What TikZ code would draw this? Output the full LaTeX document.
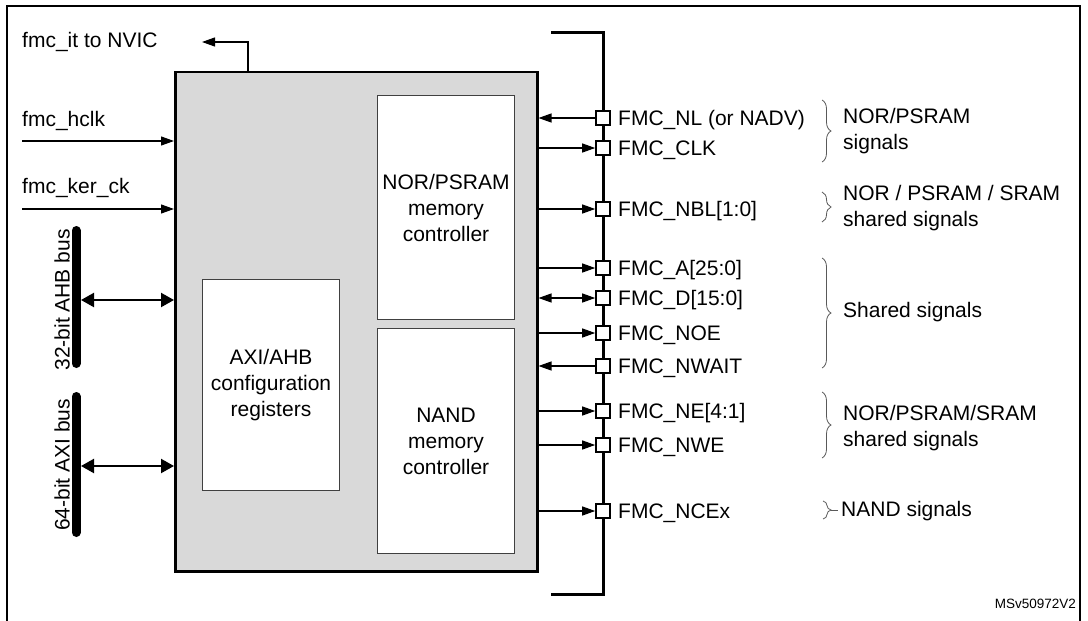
\documentclass[tikz,border=0pt]{standalone}
\usepackage{fontspec}
\setmainfont{Liberation Sans}
\usetikzlibrary{arrows.meta,decorations.pathreplacing}
\definecolor{fmcgray}{RGB}{217,217,217}
\begin{document}
\begin{tikzpicture}[x=1pt,y=-1pt,
  txt/.style={font=\fontsize{21}{26}\selectfont, inner sep=0pt},
  sigtxt/.style={font=\fontsize{21}{26}\selectfont, inner sep=0pt, text height=15pt, text depth=0pt, anchor=west},
  blk/.style={draw=black!75, line width=1pt, fill=white, inner sep=0pt, align=center, anchor=north west, font=\fontsize{21}{26}\selectfont},
  pinbox/.style={draw=black, line width=1.6pt, fill=white, minimum size=14pt, inner sep=0pt},
  sigline/.style={line width=1.2pt},
  toright/.style={sigline, -{Triangle[length=13pt,width=9pt]}},
  toleft/.style={sigline, {Triangle[length=13pt,width=9pt]}-},
  tboth/.style={sigline, {Triangle[length=13pt,width=9pt]}-{Triangle[length=13pt,width=9pt]}},
  busarrow/.style={line width=2.2pt, {Triangle[length=13pt,width=14pt]}-{Triangle[length=13pt,width=14pt]}},
  busbar/.style={line width=9pt, line cap=round},
  grp/.style={decorate, decoration={brace, amplitude=9pt}, draw=black!65, line width=0.8pt},
]
\useasboundingbox (0,0) rectangle (1088,621);
\clip (0,0) rectangle (1088,621);

% outer frame (open at the bottom)
\draw[line width=2.5pt] (7,640) -- (7,6) -- (1080,6) -- (1080,640);

% main FMC block
\node[draw=black, line width=2.5pt, fill=fmcgray, minimum width=362pt, minimum height=499.5pt, inner sep=0pt, anchor=north west] (fmc) at (174,70.7) {};

% inner blocks
\node[blk, minimum width=137pt, minimum height=224pt] (nor) at (377,95) {NOR/PSRAM\\memory\\controller};
\node[blk, minimum width=137pt, minimum height=225pt] (nand) at (377,328) {NAND\\memory\\controller};
\node[blk, minimum width=137pt, minimum height=211pt] (axi) at (202,279) {AXI/AHB\\configuration\\registers};

% left side inputs
\node[txt, anchor=base west] (itl) at (22,47) {fmc\_it to NVIC};
\coordinate (itup) at (248,42);
\coordinate (itend) at (202,42);
\draw[toright] (fmc.north -| itup) -- (itup) -- (itend);

\node[txt, anchor=base west] (hclk) at (22,126) {fmc\_hclk};
\coordinate (hclks) at (22,141);
\draw[toright] (hclks) -- (fmc.west |- hclks);

\node[txt, anchor=base west] (kerck) at (22,193) {fmc\_ker\_ck};
\coordinate (kercks) at (22,209);
\draw[toright] (kercks) -- (fmc.west |- kercks);

% buses
\coordinate (ahbT) at (76,230.5);
\coordinate (ahbB) at (76,363.5);
\draw[busbar] (ahbT) -- (ahbB);
\node[txt, rotate=90] (ahbl) at (62,300) {32-bit AHB bus};
\coordinate (ahbR) at (81,300);
\draw[busarrow] (ahbR) -- (fmc.west |- ahbR);

\coordinate (axiT) at (76,396.5);
\coordinate (axiB) at (76,532.5);
\draw[busbar] (axiT) -- (axiB);
\node[txt, rotate=90] (axil) at (62,465) {64-bit AXI bus};
\coordinate (axiR) at (81,466);
\draw[busarrow] (axiR) -- (fmc.west |- axiR);

% external bus line
\coordinate (busTL) at (551,32);
\coordinate (busTR) at (603,32);
\coordinate (busBR) at (603,594);
\coordinate (busBL) at (551,594);
\draw[line width=3pt] (busTL) -- (busTR) -- (busBR) -- (busBL);

% pins
\node[pinbox] (pNL) at (603,118) {};
\node[pinbox] (pCLK) at (603,148) {};
\node[pinbox] (pNBL) at (603,209) {};
\node[pinbox] (pA) at (603,268) {};
\node[pinbox] (pD) at (603,298) {};
\node[pinbox] (pNOE) at (603,333) {};
\node[pinbox] (pNWAIT) at (603,366) {};
\node[pinbox] (pNE) at (603,411) {};
\node[pinbox] (pNWE) at (603,445) {};
\node[pinbox] (pNCE) at (603,511) {};

\draw[toleft]  (fmc.east |- pNL) -- (pNL.west);
\draw[toright] (fmc.east |- pCLK) -- (pCLK.west);
\draw[toright] (fmc.east |- pNBL) -- (pNBL.west);
\draw[toright] (fmc.east |- pA) -- (pA.west);
\draw[tboth]   (fmc.east |- pD) -- (pD.west);
\draw[toright] (fmc.east |- pNOE) -- (pNOE.west);
\draw[toleft]  (fmc.east |- pNWAIT) -- (pNWAIT.west);
\draw[toright] (fmc.east |- pNE) -- (pNE.west);
\draw[toright] (fmc.east |- pNWE) -- (pNWE.west);
\draw[toright] (fmc.east |- pNCE) -- (pNCE.west);

\node[sigtxt] (tNL) at (618,118) {FMC\_NL (or NADV)};
\node[sigtxt] (tCLK) at (618,148) {FMC\_CLK};
\node[sigtxt] (tNBL) at (618,209) {FMC\_NBL[1:0]};
\node[sigtxt] (tA) at (618,268) {FMC\_A[25:0]};
\node[sigtxt] (tD) at (618,298) {FMC\_D[15:0]};
\node[sigtxt] (tNOE) at (618,333) {FMC\_NOE};
\node[sigtxt] (tNWAIT) at (618,366) {FMC\_NWAIT};
\node[sigtxt] (tNE) at (618,411) {FMC\_NE[4:1]};
\node[sigtxt] (tNWE) at (618,445) {FMC\_NWE};
\node[sigtxt] (tNCE) at (618,511) {FMC\_NCEx};

% groups
\coordinate (g1a) at (822,100); \coordinate (g1b) at (822,162);
\coordinate (g2a) at (822,192); \coordinate (g2b) at (822,222);
\coordinate (g3a) at (822,258); \coordinate (g3b) at (822,368);
\coordinate (g4a) at (822,392); \coordinate (g4b) at (822,458);
\coordinate (g5a) at (823,501); \coordinate (g5b) at (823,519);
\coordinate (g5t) at (831,510); \coordinate (g5e) at (838,510);
\draw[grp] (g1a) -- (g1b);
\draw[grp] (g2a) -- (g2b);
\draw[grp] (g3a) -- (g3b);
\draw[grp] (g4a) -- (g4b);
\draw[grp, decoration={brace, amplitude=8pt}] (g5a) -- (g5b);
\draw[draw=black!65, line width=0.8pt] (g5t) -- (g5e);

\node[txt, anchor=west, align=left] (l1) at (843,131) {NOR/PSRAM\\signals};
\node[txt, anchor=west, align=left] (l2) at (843,208) {NOR / PSRAM / SRAM\\shared signals};
\node[txt, anchor=west, align=left] (l3) at (843,312) {Shared signals};
\node[txt, anchor=west, align=left] (l4) at (843,428) {NOR/PSRAM/SRAM\\shared signals};
\node[txt, anchor=west, align=left] (l5) at (841,511) {NAND signals};

\node[font=\fontsize{13.5}{16}\selectfont, inner sep=0pt, anchor=base east] (ref) at (1076,608) {MSv50972V2};
\end{tikzpicture}
\end{document}
